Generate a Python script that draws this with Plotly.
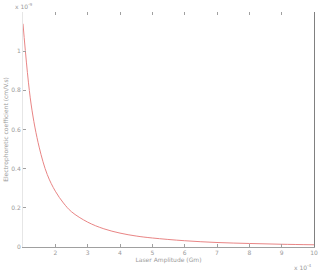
import plotly.graph_objects as go

# Laser amplitude (x 1e-4) and coefficient (x 1e-9)
amplitude = [1.0, 1.25, 1.5, 1.75, 2.0, 2.25, 2.5, 3.0, 3.5, 4.0, 4.5, 5.0, 6.0, 7.0, 8.0, 9.0, 10.0]
coefficient = [1.14, 0.73, 0.51, 0.37, 0.285, 0.225, 0.18, 0.127, 0.093, 0.071, 0.056, 0.046,
               0.032, 0.023, 0.018, 0.014, 0.0114]
x_ticks = [2, 3, 4, 5, 6, 7, 8, 9, 10]
y_ticks = [0, 0.2, 0.4, 0.6, 0.8, 1]
y_tick_text = ["0", "0.2", "0.4", "0.6", "0.8", "1"]

grey = "#a0a0a0"
fnt = dict(family="DejaVu Sans", size=6, color="#9a9a9a")

fig = go.Figure()
fig.add_trace(go.Scatter(x=amplitude, y=coefficient, mode="lines",
                         line=dict(color="#e98585", width=1, shape="spline"),
                         showlegend=False))
# invisible trace for the top axis ticks and the right box line
fig.add_trace(go.Scatter(x=amplitude, y=coefficient, mode="lines", xaxis="x2", yaxis="y2",
                         line=dict(color="rgba(0,0,0,0)"), showlegend=False, hoverinfo="skip"))

fig.update_layout(
    width=323, height=272,
    margin=dict(l=20, r=5, t=12, b=25),
    paper_bgcolor="white", plot_bgcolor="white",
    font=fnt,
    xaxis=dict(range=[1, 10], tickvals=x_ticks, ticks="inside", ticklen=3, tickcolor=grey,
               showline=True, linecolor=grey, linewidth=1, showgrid=False, zeroline=False,
               tickfont=fnt,
               title=dict(text="Laser Amplitude (Gm)", font=fnt, standoff=2)),
    xaxis2=dict(range=[1, 10], tickvals=x_ticks, ticks="inside", ticklen=3, tickcolor=grey,
                overlaying="x", side="top", showticklabels=False, showline=False,
                showgrid=False, zeroline=False),
    yaxis=dict(range=[0, 1.2], tickvals=y_ticks, ticktext=y_tick_text, ticks="inside",
               ticklen=3, tickcolor=grey, showline=True, linecolor="#e6e6e6", mirror=False,
               showgrid=False, zeroline=False, tickfont=fnt,
               title=dict(text="Electrophoretic coefficient (cm/V.s)", font=fnt, standoff=2)),
    yaxis2=dict(range=[0, 1.2], overlaying="y", side="right", showline=True, linecolor="#808080",
                showticklabels=False, ticks="", showgrid=False, zeroline=False),
    annotations=[
        dict(text="x 10<sup>-9</sup>", x=0, y=1.0, xref="paper", yref="paper",
             xanchor="left", yanchor="bottom", showarrow=False, font=fnt, xshift=-10),
        dict(text="x 10<sup>-4</sup>", x=1, y=0, xref="paper", yref="paper",
             xanchor="right", yanchor="top", showarrow=False, font=fnt, yshift=-14),
    ],
)
fig.write_html("out.html")
